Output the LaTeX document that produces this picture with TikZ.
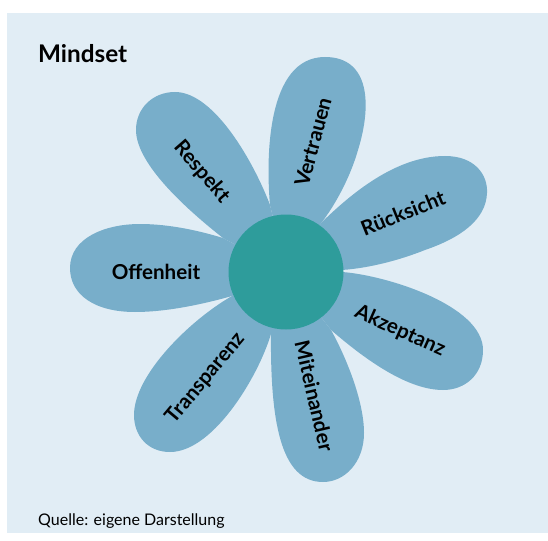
\documentclass[tikz,border=0pt]{standalone}
\usepackage{fontspec}
\setmainfont{Lato}
\definecolor{bgc}{HTML}{E1EDF5}
\definecolor{petalc}{HTML}{78AECA}
\definecolor{corec}{HTML}{2E9C9B}
\tikzset{
  petal/.style={fill=petalc,draw=none},
  lab/.style={font=\bfseries\fontsize{20.6}{23}\selectfont,text=black,inner sep=0pt},
}
\begin{document}
\begin{tikzpicture}[x=1pt,y=-1pt]
\useasboundingbox (0,0) rectangle (548,540);
\fill[white] (0,0) rectangle (548,540);
\fill[bgc] (7,13) rectangle (548,533);
% Vertrauen
\fill[petal] (286,272) -- (270,205) .. controls (266,160) and (266,57) .. (325,57)
  .. controls (370,57) and (372,105) .. (358,150) .. controls (350,178) and (335,205) .. (322,222) -- cycle;
% Ruecksicht
\fill[petal] (286,272) -- (322,222) .. controls (350,195) and (395,156) .. (445,156)
  .. controls (475,156) and (488,175) .. (487,193) .. controls (486,220) and (460,238) .. (425,250)
  .. controls (400,260) and (370,268) .. (342,270) -- cycle;
% Akzeptanz
\fill[petal] (286,272) -- (342,272) .. controls (385,275) and (483,305) .. (483,350)
  .. controls (483,375) and (465,390) .. (443,390) .. controls (405,390) and (360,355) .. (331,330) -- cycle;
% Miteinander
\fill[petal] (286,272) -- (331,330) .. controls (345,355) and (364,400) .. (364,433)
  .. controls (364,462) and (345,482) .. (323,482) .. controls (280,482) and (270,420) .. (271,330) -- cycle;
% Transparenz
\fill[petal] (286,272) -- (272,330) .. controls (262,370) and (215,452) .. (170,452)
  .. controls (148,452) and (134,436) .. (134,415) .. controls (134,375) and (190,320) .. (232,296) -- cycle;
% Offenheit
\fill[petal] (286,272) -- (232,296) .. controls (200,305) and (165,312) .. (135,312)
  .. controls (95,312) and (70,295) .. (70,268) .. controls (70,238) and (105,224) .. (140,224)
  .. controls (170,224) and (200,231) .. (223,238) -- cycle;
% Respekt
\fill[petal] (286,272) -- (223,238) .. controls (190,212) and (136,165) .. (136,130)
  .. controls (136,108) and (153,92) .. (175,92) .. controls (215,92) and (255,165) .. (270,205) -- cycle;
\fill[corec] (286,272) circle (57.5);
\node[lab,rotate=75] (v) at (313,142) {Vertrauen};
\node[lab,rotate=22] (r) at (403,213) {Rücksicht};
\node[lab,rotate=-24] (a) at (400,331) {Akzeptanz};
\node[lab,rotate=-77] (m) at (314.5,396) {Miteinander};
\node[lab,rotate=50] (t) at (206,378) {Transparenz};
\node[lab] (o) at (156,272) {Offenheit};
\node[lab,rotate=-49] (s) at (202,172) {Respekt};
\node[anchor=west,inner sep=0pt,font=\bfseries\fontsize{24.3}{27}\selectfont] (title) at (38,54) {Mindset};
\node[anchor=west,inner sep=0pt,font=\fontsize{16}{18}\selectfont] (src) at (38,521) {Quelle: eigene Darstellung};
\end{tikzpicture}
\end{document}
